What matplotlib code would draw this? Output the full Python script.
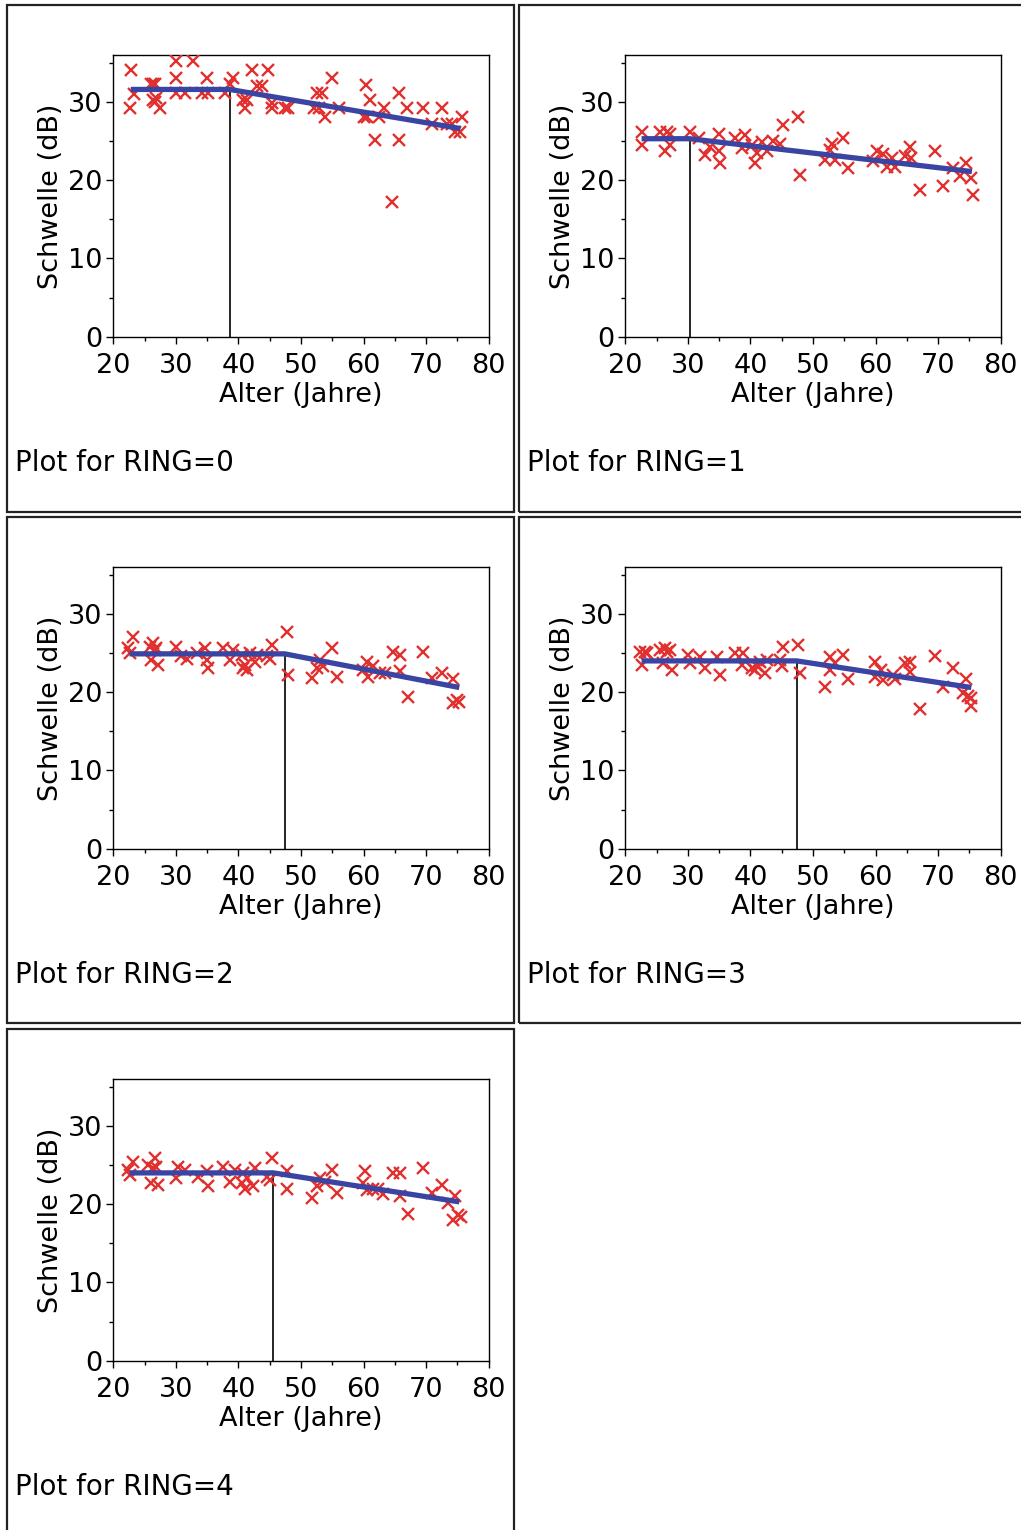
import matplotlib
matplotlib.use("Agg")
import matplotlib.pyplot as plt
from matplotlib.patches import Rectangle
import numpy as np

plt.rcParams['font.family'] = ['DejaVu Sans']

# ---------------- data ----------------
ring0_age = [22.8, 23.3, 22.7, 26.0, 26.3, 26.6, 26.8, 26.4, 26.6, 27.4, 30.1, 30.1, 30.1, 31.5,
             32.7, 34.9, 34.1, 35.2, 37.8, 39.2, 38.6, 40.8, 41.0, 41.3, 42.2, 42.9, 43.7, 44.8,
             45.3, 45.3, 47.4, 48.0, 52.0, 52.5, 53.3, 52.8, 53.8, 54.9, 56.0, 60.4, 60.0, 60.5,
             61.0, 61.8, 62.4, 63.2, 64.6, 65.6, 65.6, 67.0, 69.5, 70.9, 72.5, 73.3, 74.1, 74.6,
             75.7, 75.4]
ring0_db = [34.1, 31.0, 29.2, 32.3, 32.3, 32.3, 30.5, 30.3, 30.0, 29.2, 35.2, 33.1, 31.1, 31.1,
            35.2, 33.1, 31.1, 31.1, 31.1, 33.1, 32.3, 30.3, 29.2, 30.3, 34.1, 32.1, 32.1, 34.1,
            29.9, 29.2, 29.2, 29.2, 29.2, 31.1, 31.1, 29.2, 28.1, 33.1, 29.2, 32.2, 28.1, 28.1,
            30.3, 25.2, 28.1, 29.2, 17.2, 31.1, 25.2, 29.2, 29.2, 27.2, 29.2, 27.2, 27.2, 26.1,
            28.1, 26.1]

ring1_age = [22.6, 22.6, 25.5, 26.6, 27.1, 26.4, 27.1, 30.3, 31.7, 32.7, 33.5, 34.9, 34.9, 35.1,
             37.5, 38.6, 39.1, 40.2, 40.7, 41.0, 41.8, 42.6, 43.6, 44.7, 45.2, 47.6, 47.9, 51.9,
             53.0, 52.7, 53.5, 54.8, 55.6, 59.6, 60.2, 61.2, 61.8, 62.6, 63.1, 64.7, 65.5, 65.7,
             67.1, 69.5, 70.8, 72.4, 73.5, 74.5, 75.3, 75.6]
ring1_db = [26.2, 24.5, 26.2, 26.2, 25.9, 23.7, 24.5, 26.2, 25.4, 23.2, 24.3, 25.9, 23.7, 22.2,
            25.4, 24.1, 25.8, 24.5, 22.2, 23.5, 24.9, 23.7, 25.0, 24.6, 27.1, 28.1, 20.7, 22.6,
            24.6, 23.8, 22.6, 25.4, 21.5, 22.4, 23.7, 23.3, 21.7, 22.9, 21.7, 23.1, 24.3, 22.9,
            18.8, 23.7, 19.2, 21.5, 20.5, 22.2, 20.3, 18.1]

ring2_age = [22.4, 22.7, 23.2, 25.9, 26.4, 26.7, 26.9, 26.1, 27.2, 30.1, 30.9, 31.7, 33.3, 34.6,
             34.9, 35.2, 37.6, 38.6, 39.2, 40.5, 40.8, 41.0, 41.3, 41.8, 42.6, 42.9, 44.5, 45.0,
             45.3, 47.7, 47.9, 51.7, 52.5, 53.0, 53.5, 54.9, 55.7, 59.9, 60.5, 60.7, 61.5, 62.6,
             63.4, 64.7, 65.8, 65.8, 67.1, 69.5, 70.9, 72.5, 74.3, 74.3, 75.0, 75.3]
ring2_db = [25.6, 25.0, 27.1, 25.8, 26.3, 25.4, 25.6, 24.1, 23.5, 25.8, 24.6, 24.3, 25.0, 25.6,
            24.1, 23.1, 25.6, 24.1, 25.4, 24.8, 23.1, 23.5, 22.9, 25.0, 23.9, 24.8, 24.6, 24.3,
            26.0, 27.7, 22.2, 21.8, 23.1, 24.1, 23.3, 25.6, 22.0, 22.9, 23.9, 22.0, 23.3, 22.5,
            22.5, 25.2, 24.8, 22.7, 19.4, 25.2, 21.8, 22.5, 21.7, 18.6, 19.0, 18.8]

ring3_age = [22.3, 23.1, 23.4, 22.6, 25.5, 26.3, 26.6, 27.1, 26.1, 27.4, 30.1, 30.3, 31.9, 32.7,
             34.6, 35.1, 37.5, 38.8, 38.6, 40.2, 40.7, 41.0, 41.5, 42.6, 42.3, 44.7, 45.2, 45.0,
             47.6, 47.9, 51.9, 52.7, 52.7, 53.5, 54.8, 55.6, 59.9, 59.9, 60.9, 61.2, 62.8, 63.1,
             64.7, 65.5, 65.5, 67.1, 69.5, 70.8, 72.4, 74.5, 73.9, 74.7, 75.3, 75.3]
ring3_db = [25.2, 25.2, 25.0, 23.5, 25.4, 25.6, 25.2, 25.4, 23.7, 22.9, 24.8, 23.7, 24.5, 23.1,
            24.5, 22.2, 25.0, 25.0, 23.5, 23.1, 22.9, 23.3, 23.9, 24.1, 22.4, 24.1, 25.8, 23.3,
            26.0, 22.4, 20.7, 24.5, 22.9, 23.7, 24.8, 21.7, 23.9, 21.9, 22.9, 21.5, 22.2, 21.7,
            23.7, 23.9, 22.6, 17.9, 24.6, 20.7, 23.1, 21.7, 19.9, 19.5, 19.3, 18.2]

ring4_age = [22.4, 22.7, 23.2, 25.6, 26.4, 26.7, 26.9, 26.1, 27.2, 30.1, 30.4, 31.5, 33.6, 34.9,
             35.2, 37.6, 38.6, 39.4, 40.5, 40.8, 41.0, 41.3, 42.4, 42.6, 44.5, 45.0, 45.3, 47.7,
             47.7, 51.7, 52.5, 53.0, 53.8, 54.9, 55.7, 60.2, 59.9, 60.5, 61.5, 62.3, 63.1, 64.7,
             65.8, 65.8, 67.1, 69.5, 70.9, 72.5, 74.6, 73.5, 74.3, 75.1, 75.6]
ring4_db = [24.4, 23.7, 25.4, 25.0, 24.6, 25.9, 24.8, 22.7, 22.5, 23.3, 24.8, 24.4, 23.5, 24.2,
            22.3, 24.8, 22.9, 24.4, 22.7, 24.0, 22.0, 23.3, 22.3, 24.6, 23.5, 23.1, 25.9, 24.2,
            22.0, 20.8, 22.3, 23.3, 22.9, 24.4, 21.4, 24.2, 22.7, 21.8, 22.0, 22.0, 21.3, 24.0,
            24.0, 21.0, 18.8, 24.6, 21.4, 22.5, 21.0, 20.1, 18.0, 18.6, 18.4]

# fitted broken-stick lines: (start age, breakpoint age, end age), (plateau dB, end dB)
fit_start = [22.8, 22.6, 22.6, 22.6, 22.6]
fit_break = [38.6, 30.3, 47.4, 47.4, 45.6]
fit_end = [75.5, 75.4, 75.3, 75.3, 75.3]
fit_plateau = [31.6, 25.3, 24.9, 24.0, 24.0]
fit_final = [26.6, 21.1, 20.6, 20.6, 20.3]

ring_ages = [ring0_age, ring1_age, ring2_age, ring3_age, ring4_age]
ring_dbs = [ring0_db, ring1_db, ring2_db, ring3_db, ring4_db]
titles = ["Plot for RING=0", "Plot for RING=1", "Plot for RING=2",
          "Plot for RING=3", "Plot for RING=4"]
xticks = [20, 30, 40, 50, 60, 70, 80]
yticks = [0, 10, 20, 30]

# ---------------- layout ----------------
W, H = 1021, 1530
fig = plt.figure(figsize=(W / 100, H / 100), dpi=100)

def fx(px):
    return px / W

def fy(py):
    return 1 - py / H

# panel boxes (left, top, right, bottom) in pixels
boxes = [(7, 5, 514, 512), (519, 5, 1040, 512),
         (7, 517, 514, 1023), (519, 517, 1040, 1023),
         (7, 1029, 514, 1545)]
offsets = [(0, 0), (512, 0), (0, 512), (512, 512), (0, 1024)]

RED = '#E2302F'
BLUE = '#3A44A2'
FS = 19.5

for i in range(5):
    l, t, r, b = boxes[i]
    fig.add_artist(Rectangle((fx(l), fy(b)), fx(r) - fx(l), fy(t) - fy(b),
                             transform=fig.transFigure, fill=False,
                             edgecolor='#222222', linewidth=1.6))
    dx, dy = offsets[i]
    ax_l, ax_t, ax_r, ax_b = 113.3 + dx, 55 + dy, 488.7 + dx, 336.7 + dy
    ax = fig.add_axes([fx(ax_l), fy(ax_b), fx(ax_r) - fx(ax_l), fy(ax_t) - fy(ax_b)])
    ax.set_xlim(20, 80)
    ax.set_ylim(0, 36)
    ax.plot(ring_ages[i], ring_dbs[i], linestyle='none', marker='x', color=RED,
            markersize=9, markeredgewidth=1.7, zorder=3)
    ax.plot([fit_start[i], fit_break[i], fit_end[i]],
            [fit_plateau[i], fit_plateau[i], fit_final[i]],
            color=BLUE, linewidth=3.8, solid_capstyle='butt', zorder=4)
    ax.vlines(fit_break[i], 0, fit_plateau[i], color='black', linewidth=1.2, zorder=2)
    ax.set_xticks(xticks)
    ax.set_yticks(yticks)
    ax.set_xticks([25, 35, 45, 55, 65, 75], minor=True)
    ax.set_yticks([5, 15, 25, 35], minor=True)
    ax.tick_params(axis='both', which='major', direction='out', length=5, width=1,
                   labelsize=FS)
    ax.tick_params(axis='x', which='major', pad=7)
    ax.tick_params(axis='y', which='major', pad=3)
    ax.tick_params(axis='both', which='minor', direction='out', length=3, width=1)
    ax.tick_params(top=False, right=False, which='both')
    for s in ax.spines.values():
        s.set_linewidth(1.0)
    ax.set_xlabel("Alter (Jahre)", fontsize=FS, labelpad=2)
    ax.set_ylabel("Schwelle (dB)", fontsize=FS, labelpad=3)
    fig.text(fx(15 + dx), fy(463 + dy), titles[i], fontsize=20, ha='left', va='center')

fig.savefig("out.png", dpi=100)
